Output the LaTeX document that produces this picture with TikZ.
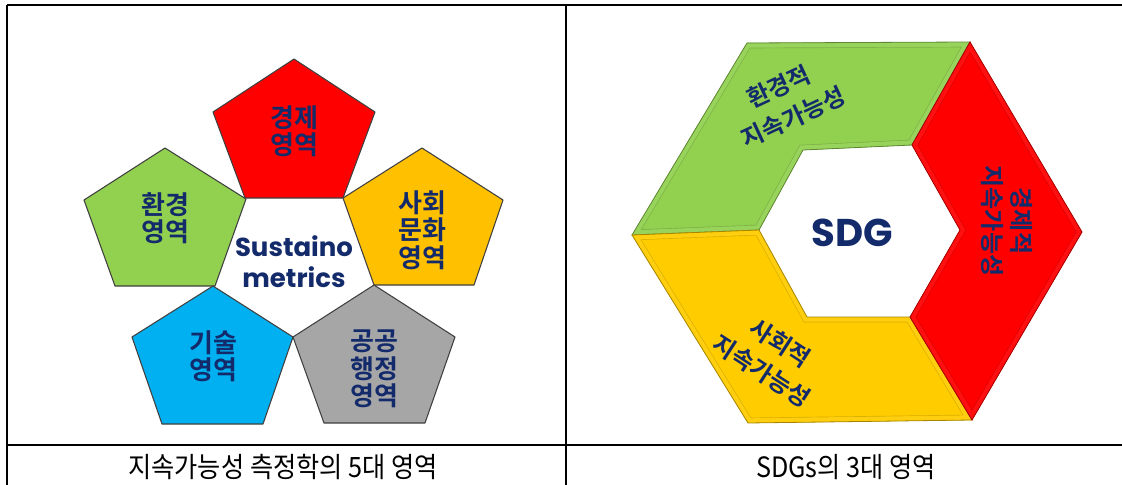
\documentclass[tikz,border=0pt]{standalone}
\usepackage{fontspec}
\newfontfamily\kb{Noto Sans CJK KR Bold}
\newfontfamily\kr{Noto Sans CJK KR}
\newfontfamily\pop{Poppins Bold}
\definecolor{navy}{HTML}{132A6B}
\definecolor{pline}{HTML}{404040}
\definecolor{cred}{HTML}{FF0000}
\definecolor{cgreen}{HTML}{92D050}
\definecolor{cyellow}{HTML}{FFC000}
\definecolor{cblue}{HTML}{00B0F0}
\definecolor{cgray}{HTML}{A6A6A6}
\definecolor{ryellow}{HTML}{FFCC00}
\begin{document}
\begin{tikzpicture}[x=0.75pt,y=-0.75pt,
  tbl/.style={draw=black,line width=1pt},
  pent/.style={draw=pline,line width=0.8pt,line join=round},
  lbl/.style={text=navy,font=\kb\fontsize{19.5}{20.5}\selectfont,align=center,inner sep=0pt},
  rlbl/.style={text=navy,font=\kb\fontsize{18}{25.5}\selectfont,align=center,inner sep=0pt},
  captext/.style={text=black,font=\kr\fontsize{21}{22}\selectfont,inner sep=0pt}]
\useasboundingbox (0,0) rectangle (1122,485);
% table
\coordinate (t1) at (7,5); \coordinate (t2) at (1122,5);
\coordinate (t3) at (7,485); \coordinate (d1) at (566,5); \coordinate (d2) at (566,485);
\coordinate (h1) at (7,445); \coordinate (h2) at (1122,445);
\draw[tbl] (t1) -- (t2);
\draw[tbl] (t1) -- (t3);
\draw[tbl] (d1) -- (d2);
\draw[tbl] (h1) -- (h2);
% pentagons
\filldraw[pent,fill=cred] (294,59) -- (375,112) -- (343,198) -- (245,198) -- (213,112) -- cycle;
\filldraw[pent,fill=cgreen] (165,148) -- (246,199) -- (215,286) -- (115,286) -- (84,200) -- cycle;
\filldraw[pent,fill=cyellow] (422,148) -- (503,200) -- (474,285) -- (374,285) -- (343,198) -- cycle;
\filldraw[pent,fill=cblue] (213,286) -- (293,337) -- (263,424) -- (162,424) -- (132,337) -- cycle;
\filldraw[pent,fill=cgray] (374,285) -- (455,337) -- (425,423) -- (324,423) -- (293,337) -- cycle;
\node[lbl] (econ) at (294,131) {경제\\영역};
\node[lbl] (env) at (165,218) {환경\\영역};
\node[lbl] (soc) at (422,230) {사회\\문화\\영역};
\node[lbl] (tech) at (213,356) {기술\\영역};
\node[lbl] (pub) at (374,369) {공공\\행정\\영역};
\node[text=navy,font=\pop\fontsize{19.5}{23}\selectfont,align=center,inner sep=0pt] (sus) at (294,262) {Sustaino\\metrics};
% hexagon ring
\coordinate (L) at (632,235); \coordinate (TL) at (747,43); \coordinate (TR) at (970,42);
\coordinate (R) at (1082,232); \coordinate (BR) at (972,420); \coordinate (BL) at (748,423);
\coordinate (iL) at (759,230); \coordinate (iTL) at (803,150); \coordinate (iTR) at (912,145);
\coordinate (iR) at (960,230); \coordinate (iBR) at (910,317); \coordinate (iBL) at (807,317);
\def\gpath{(L) -- (TL) -- (TR) -- (iTR) -- (iTL) -- (iL) -- cycle}
\def\ypath{(L) -- (BL) -- (BR) -- (iBR) -- (iBL) -- (iL) -- cycle}
\def\rpath{(TR) -- (R) -- (BR) -- (iBR) -- (iR) -- (iTR) -- cycle}
\newcommand\bevel[2]{%
  \fill[#1] #2;
  \begin{scope}
    \clip #2;
    \draw[#1!85!black,line width=8pt,line join=miter] #2;
    \draw[#1!94!white,line width=7pt,line join=miter] #2;
  \end{scope}
  \draw[#1!65!black,line width=0.6pt,line join=miter] #2;}
\bevel{cgreen}{\gpath}
\bevel{ryellow}{\ypath}
\bevel{cred}{\rpath}
\node[text=navy,font=\pop\fontsize{29}{32}\selectfont,inner sep=0pt] (sdg) at (852,233) {SDG};
\node[rlbl,rotate=25] (genv) at (786,102) {환경적\\지속가능성};
\node[rlbl,rotate=-90,font=\kb\fontsize{18}{21.5}\selectfont] (gecon) at (1007,221) {경제적\\지속가능성};
\node[rlbl,rotate=-33] (gsoc) at (771,357) {사회적\\지속가능성};
% captions
\node[captext] (c1) at (283,467) {\scalebox{0.9}[1]{지속가능성 측정학의 5대 영역}};
\node[captext] (c2) at (846,467) {\scalebox{0.9}[1]{SDGs의 3대 영역}};
\end{tikzpicture}
\end{document}
